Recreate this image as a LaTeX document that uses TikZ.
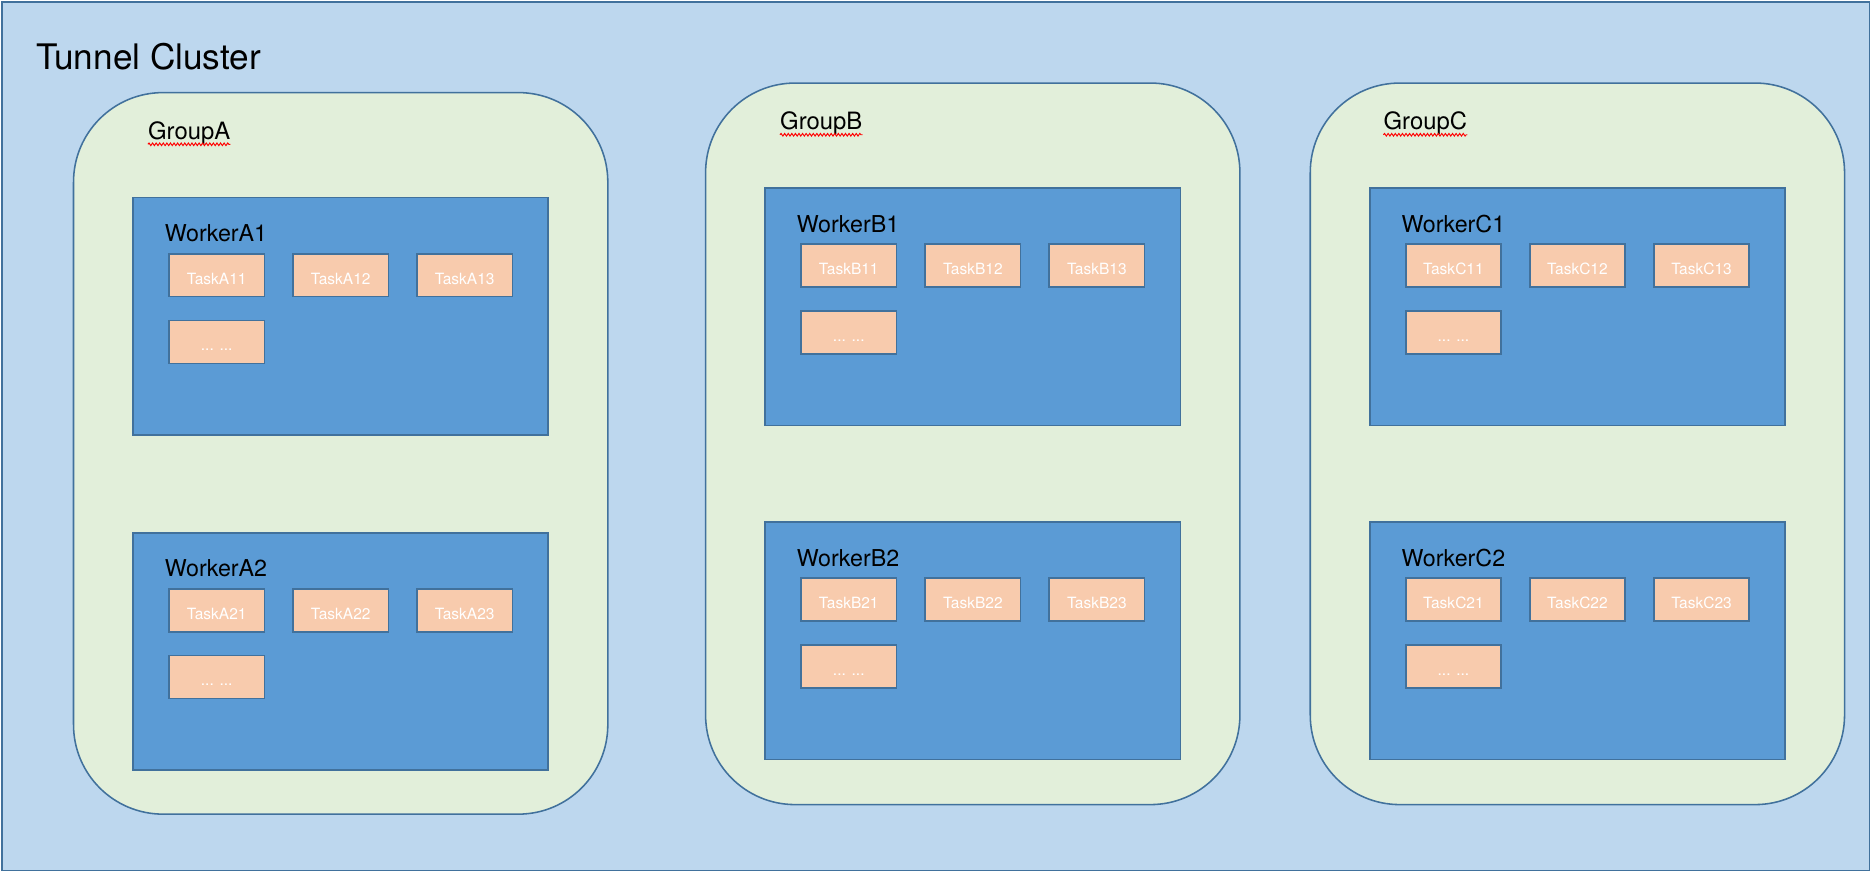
\documentclass[tikz,border=0pt]{standalone}
\usepackage{fontspec}
\setmainfont{TeX Gyre Heros}
\usetikzlibrary{decorations.pathmorphing}
\definecolor{clusterfill}{HTML}{BDD7EE}
\definecolor{groupfill}{HTML}{E2EFDA}
\definecolor{workerfill}{HTML}{5B9BD5}
\definecolor{taskfill}{HTML}{F8CBAD}
\definecolor{edgeblue}{HTML}{41719C}
\tikzset{
  clusterbox/.style={draw=edgeblue, fill=clusterfill, line width=1.5pt, rectangle, inner sep=0pt, minimum width=1566.5pt, minimum height=728.5pt, anchor=north west},
  groupbox/.style={draw=edgeblue, fill=groupfill, line width=1.3pt, rectangle, rounded corners=75pt, inner sep=0pt, minimum width=448pt, minimum height=605pt, anchor=north west},
  workerbox/.style={draw=edgeblue, fill=workerfill, line width=1.4pt, rectangle, inner sep=0pt, minimum width=348pt, minimum height=199pt, anchor=north west},
  taskbox/.style={draw=edgeblue, fill=taskfill, line width=1.4pt, rectangle, inner sep=0pt, minimum width=80pt, minimum height=36pt, text height=15pt, text depth=0pt, anchor=north west, text=white, font=\fontsize{13}{15}\selectfont},
  biglabel/.style={anchor=base west, inner sep=0pt, font=\fontsize{29.5}{34}\selectfont},
  grouplabel/.style={anchor=base west, inner sep=0pt, font=\fontsize{20}{24}\selectfont},
  workerlabel/.style={anchor=base west, inner sep=0pt, font=\fontsize{19.5}{23}\selectfont},
  spellmark/.style={draw=red, line width=0.8pt, decorate, decoration={snake, amplitude=1.1pt, segment length=3pt}}
}
\newcommand\mkworker[3]{%
  \node[workerbox] (w#3) at (#1,#2) {};
  \node[workerlabel] (lw#3) at (#1+27,#2+37.6) {Worker#3};
  \node[taskbox] (t#31) at (#1+30,#2+47) {Task#31};
  \node[taskbox] (t#32) at (#1+134,#2+47) {Task#32};
  \node[taskbox] (t#33) at (#1+238,#2+47) {Task#33};
  \node[taskbox] (t#3x) at (#1+30,#2+103) {... ...};
}
\begin{document}
\begin{tikzpicture}[x=1pt,y=-1pt]
\useasboundingbox (0,0) rectangle (1568,730);
\node[clusterbox] (cluster) at (0.75,0.75) {};
\node[biglabel] (lcluster) at (30,58) {Tunnel Cluster};
% groups
\node[groupbox] (gA) at (61,77) {};
\node[groupbox] (gB) at (591,69) {};
\node[groupbox] (gC) at (1098,69) {};
\node[grouplabel] (lgA) at (124,117) {GroupA};
\node[grouplabel] (lgB) at (654,109) {GroupB};
\node[grouplabel] (lgC) at (1160,109) {GroupC};
\foreach \g in {lgA,lgB,lgC}{
  \draw[spellmark] ([yshift=-4pt]\g.base west) -- ([yshift=-4pt]\g.base east);
}
% workers
\mkworker{111}{165}{A1}
\mkworker{111}{446}{A2}
\mkworker{641}{157}{B1}
\mkworker{641}{437}{B2}
\mkworker{1148}{157}{C1}
\mkworker{1148}{437}{C2}
\end{tikzpicture}
\end{document}
